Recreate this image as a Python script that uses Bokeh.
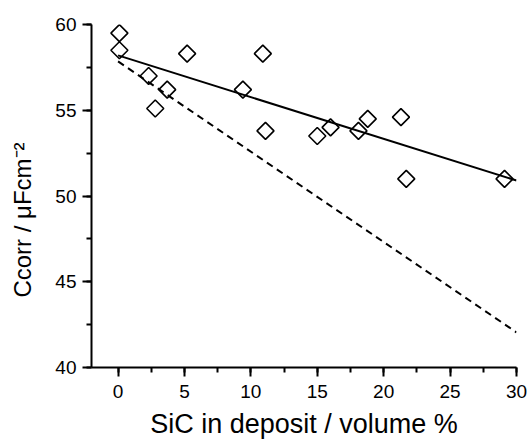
import numpy as np
from bokeh.plotting import figure
from bokeh.models import SingleIntervalTicker, Range1d
from bokeh.embed import file_html
from bokeh.resources import INLINE

# Data
sic_vol = [0.1, 0.1, 2.3, 2.8, 3.7, 5.2, 9.4, 10.9, 11.1, 15.0, 16.0, 18.1, 18.8, 21.3, 21.7, 29.1]
ccorr = [59.5, 58.5, 57.0, 55.1, 56.2, 58.3, 56.2, 58.3, 53.8, 53.5, 54.0, 53.8, 54.5, 54.6, 51.0, 51.0]

fit_x = [0.0, 30.0]
fit_y = [58.2, 50.9]

model_x = [0.0, 30.0]
model_y = [57.85, 42.05]

x_ticks_interval = 5
y_ticks_interval = 5

x_title = "SiC in deposit / volume %"
y_title = "Ccorr / \u03bcFcm\u207b\u00b2"

FONT = "Liberation Sans"

p = figure(width=529, height=441, output_backend="svg", toolbar_location=None,
           x_range=Range1d(-2, 30), y_range=Range1d(40, 60),
           min_border_left=91, min_border_right=13, min_border_top=24, min_border_bottom=72)
p.outline_line_color = None
p.xgrid.visible = False
p.ygrid.visible = False
p.background_fill_color = "white"
p.border_fill_color = "white"

p.line(model_x, model_y, line_color="black", line_width=2, line_dash="7 5")
p.line(fit_x, fit_y, line_color="black", line_width=2)
p.scatter(sic_vol, ccorr, marker="square", angle=np.pi / 4, size=12,
          fill_color="white", fill_alpha=0.0, line_color="black", line_width=1.6)

p.xaxis.ticker = SingleIntervalTicker(interval=x_ticks_interval, num_minor_ticks=2)
p.yaxis.ticker = SingleIntervalTicker(interval=y_ticks_interval, num_minor_ticks=2)

for ax in (p.xaxis[0], p.yaxis[0]):
    ax.axis_line_width = 2
    ax.axis_line_color = "black"
    ax.major_tick_line_width = 2
    ax.minor_tick_line_width = 2
    ax.major_tick_out = 9
    ax.major_tick_in = 0
    ax.minor_tick_out = 5
    ax.minor_tick_in = 0
    ax.major_label_text_font = FONT
    ax.major_label_text_font_size = "19px"
    ax.major_label_text_color = "black"
    ax.axis_label_text_font = FONT
    ax.axis_label_text_font_style = "normal"
    ax.axis_label_text_color = "black"

p.xaxis.axis_label = x_title
p.xaxis.axis_label_text_font_size = "27px"
p.xaxis.major_label_standoff = 8
p.xaxis.axis_label_standoff = 8

# trailing em spaces shift the centred title down, as it sits in the reference
p.yaxis.axis_label = y_title + "\u2003\u2003"
p.yaxis.axis_label_text_font_size = "24px"
p.yaxis.major_label_standoff = 6
p.yaxis.axis_label_standoff = 16

open("out.html", "w").write(file_html(p, INLINE))
